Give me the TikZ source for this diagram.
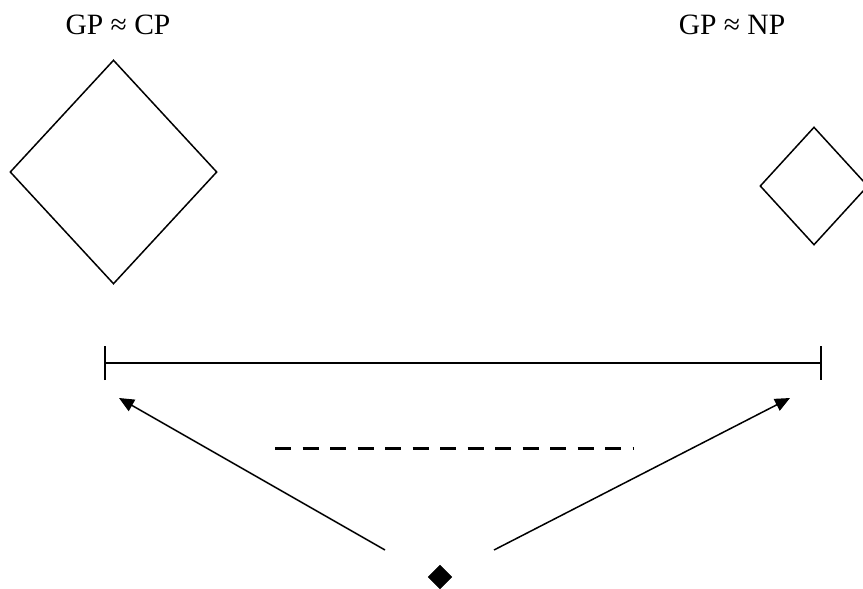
\documentclass[tikz,border=0pt]{standalone}
\usepackage{fontspec}
\setmainfont{Liberation Serif}
\usetikzlibrary{shapes.geometric,arrows.meta}
\begin{document}
\begin{tikzpicture}[x=1pt,y=-1pt,
  lbl/.style={font=\fontsize{29.5}{32}\selectfont, inner sep=0pt},
  dia/.style={draw, shape=diamond, inner sep=0pt, line width=1.5pt},
  arr/.style={line width=1.5pt, -{Triangle[length=15pt,width=13pt]}},
  bar/.style={line width=1.8pt, {Bar[width=34pt]}-{Bar[width=34pt]}},
  dsh/.style={line width=3pt, dash pattern=on 16pt off 11.5pt}]
\useasboundingbox (0,0) rectangle (863,589);
\node[lbl] (lc) at (118,24.5) {GP ≈ CP};
\node[lbl] (rc) at (732,24.5) {GP ≈ NP};
\node[dia, minimum width=207pt, minimum height=224pt] (bigd) at (113.5,172) {};
\node[dia, minimum width=108pt, minimum height=118pt] (smalld) at (814,186) {};
\coordinate (bl) at (104,363);
\coordinate (br) at (822,363);
\draw[bar] (bl) -- (br);
\coordinate (dl) at (275,448);
\coordinate (dr) at (634,448);
\draw[dsh] (dl) -- (dr);
\node[draw, fill=black, shape=diamond, inner sep=0pt, minimum width=24pt, minimum height=24pt] (src) at (440,577) {};
\coordinate (sl) at (385,550);
\coordinate (sr) at (494,550);
\coordinate (tl) at (119,398);
\coordinate (tr) at (790,398);
\draw[arr] (sl) -- (tl);
\draw[arr] (sr) -- (tr);
\end{tikzpicture}
\end{document}
